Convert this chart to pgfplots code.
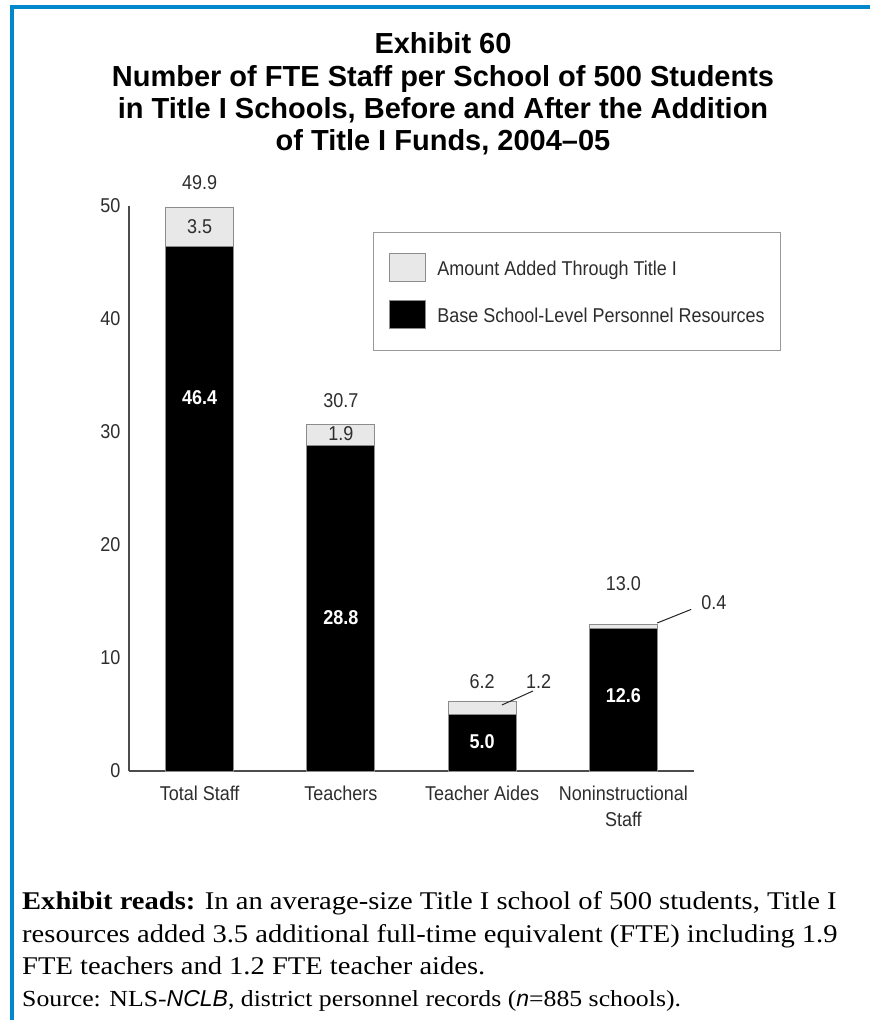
\documentclass[border=0pt]{standalone}
\usepackage{fontspec}
\setmainfont{Liberation Sans}
\newfontfamily\notefont[FakeStretch=1.12]{Liberation Serif}
\newfontfamily\arialf{Liberation Sans}
\newfontfamily\chartfont[FakeStretch=0.9]{Liberation Sans}
\usepackage{pgfplots}
\pgfplotsset{compat=1.18}
\definecolor{bordblue}{RGB}{0,135,204}
\definecolor{lightfill}{RGB}{232,232,232}
\definecolor{txt}{RGB}{45,45,45}
\begin{document}
\begin{tikzpicture}
\useasboundingbox (0pt,0pt) rectangle (870pt,1020pt);
% blue frame
\fill[bordblue] (10pt,0pt) rectangle (14pt,1015pt);
\fill[bordblue] (10pt,1011pt) rectangle (870pt,1015pt);
% title
\node[align=center, font=\bfseries\fontsize{29}{32.3}\selectfont, anchor=center] at (443pt,926pt)
 {Exhibit 60\\Number of FTE Staff per School of 500 Students\\in Title I Schools, Before and After the Addition\\of Title I Funds, 2004--05};

\begin{axis}[
  at={(129pt,249pt)}, anchor=south west,
  scale only axis, width=565pt, height=565pt,
  xmin=-0.5, xmax=3.5, ymin=0, ymax=50,
  axis x line=bottom, axis y line=left,
  axis line style={-, draw=black!70, line width=1.2pt},
  ytick={0,10,...,50},
  xtick={0,1,2,3},
  xticklabels={Total Staff, Teachers, Teacher Aides, {Noninstructional\\Staff}},
  major tick length=0pt,
  tick label style={font=\chartfont\fontsize{20}{26}\selectfont, text=txt},
  xticklabel style={align=center, yshift=-11pt},
  yticklabel style={xshift=-5pt},
  /pgf/number format/assume math mode=true,
  ybar stacked, bar width=68pt,
  clip=false,
  legend cell align=left,
  legend style={at={(axis cs:1.225,47.7)}, anchor=north west,
    draw=black!40, line width=0.8pt, inner xsep=16pt, inner ysep=21pt,
    row sep=18pt, font=\chartfont\fontsize{20}{22}\selectfont, text=txt,
    nodes={inner sep=0pt}},
]
\addlegendimage{legend image code/.code={\draw[fill=lightfill, draw=black!45, line width=0.8pt] (0pt,-12.5pt) rectangle (36pt,15.5pt);\path[draw=none] (36pt,0pt) -- (48pt,0pt);}}
\addlegendentry{Amount Added Through Title I}
\addlegendimage{legend image code/.code={\draw[fill=black, draw=black!45, line width=0.8pt] (0pt,-12.5pt) rectangle (36pt,15.5pt);\path[draw=none] (36pt,0pt) -- (48pt,0pt);}}
\addlegendentry{Base School-Level Personnel Resources}
\addplot[fill=black, draw=black!45, line width=0.8pt, forget plot]
  coordinates {(0,46.4) (1,28.8) (2,5.0) (3,12.6)};
\addplot[fill=lightfill, draw=black!45, line width=0.8pt, forget plot]
  coordinates {(0,3.5) (1,1.9) (2,1.2) (3,0.4)};

\coordinate (t1) at (axis cs:0,52.1);
\coordinate (a1) at (axis cs:0,48.15);
\coordinate (t2) at (axis cs:1,32.8);
\coordinate (a2) at (axis cs:1,29.85);
\coordinate (t3) at (axis cs:2,7.9);
\coordinate (a3) at (axis cs:2.40,7.9);
\coordinate (t4) at (axis cs:3,16.6);
\coordinate (a4) at (axis cs:3.64,14.9);
\coordinate (b1) at (axis cs:0,33.0);
\coordinate (b2) at (axis cs:1,13.6);
\coordinate (b3) at (axis cs:2,2.6);
\coordinate (b4) at (axis cs:3,6.7);
\coordinate (l1s) at (axis cs:2.14,5.84);
\coordinate (l1e) at (axis cs:2.36,7.08);
\coordinate (l2s) at (axis cs:3.24,13.1);
\coordinate (l2e) at (axis cs:3.48,14.3);
\end{axis}

% value labels
\begin{scope}[every node/.style={font=\chartfont\fontsize{20}{22}\selectfont, text=txt}]
\node at (t1) {49.9};
\node at (a1) {3.5};
\node at (t2) {30.7};
\node at (a2) {1.9};
\node at (t3) {6.2};
\node at (a3) {1.2};
\node at (t4) {13.0};
\node at (a4) {0.4};
\end{scope}
\begin{scope}[every node/.style={font=\chartfont\bfseries\fontsize{20}{22}\selectfont, text=white}]
\node at (b1) {46.4};
\node at (b2) {28.8};
\node at (b3) {5.0};
\node at (b4) {12.6};
\end{scope}
\draw[black!85, line width=1pt] (l1s) -- (l1e);
\draw[black!85, line width=1pt] (l2s) -- (l2e);

% footnote
\node[anchor=base west, inner sep=0pt, font=\notefont\fontsize{25.5}{30}\selectfont] at (22pt,110pt)
  {\textbf{Exhibit reads:} In an average-size Title I school of 500 students, Title I};
\node[anchor=base west, inner sep=0pt, font=\notefont\fontsize{25.5}{30}\selectfont] at (22pt,77pt)
  {resources added 3.5 additional full-time equivalent (FTE) including 1.9};
\node[anchor=base west, inner sep=0pt, font=\notefont\fontsize{25.5}{30}\selectfont] at (22pt,45pt)
  {FTE teachers and 1.2 FTE teacher aides.};
\node[anchor=base west, inner sep=0pt, font=\notefont\fontsize{23}{28}\selectfont] at (22pt,13pt)
  {Source: NLS-{\arialf\itshape NCLB}, district personnel records ({\arialf\itshape n}=885 schools).};
\end{tikzpicture}
\end{document}
